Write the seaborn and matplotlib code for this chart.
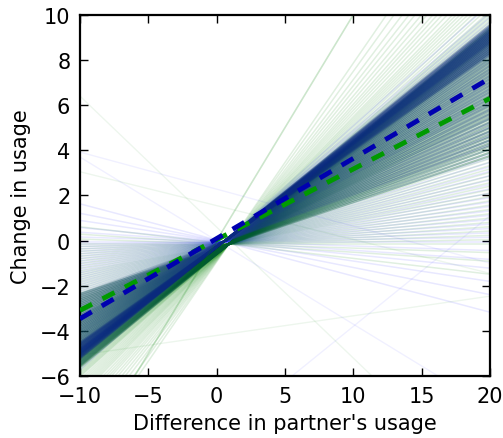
import numpy as np
import pandas as pd
import matplotlib
matplotlib.use("Agg")
import matplotlib.pyplot as plt
import seaborn as sns

# x extent of the drawn lines
x_span = [-10, 20]
# points the sampled lines of each chain fan out from
blue_pivot = (0.5, -0.05)
green_pivot = (0.9, -0.15)

# sampled regression slopes (blue chain)
blue_steep = [0.492, 0.489, 0.486, 0.483, 0.480, 0.478, 0.476, 0.474, 0.472, 0.470,
              0.468, 0.466, 0.464, 0.462, 0.460, 0.458, 0.456, 0.454, 0.452, 0.450,
              0.447, 0.444, 0.441, 0.438, 0.435, 0.432, 0.429, 0.426]
blue_mid = [0.422, 0.415, 0.408, 0.40, 0.392, 0.385, 0.377, 0.37, 0.362, 0.355,
            0.347, 0.34, 0.332, 0.325, 0.317, 0.31, 0.30, 0.29, 0.28, 0.27,
            0.26, 0.25, 0.24, 0.23, 0.22]
blue_tail = [0.21, 0.2, 0.19, 0.18, 0.17, 0.16, 0.15, 0.14, 0.13, 0.12, 0.11,
             0.10, 0.09, 0.08, 0.07, 0.06, 0.05, 0.04, 0.03, 0.02, 0.01, 0.0,
             -0.02, -0.04, -0.06, -0.09, -0.12, -0.16, 0.50, 0.51, 0.52, 0.54]

# sampled regression slopes (green chain)
green_core = [0.50, 0.496, 0.492, 0.488, 0.484, 0.48, 0.476, 0.472, 0.468, 0.464,
              0.46, 0.455, 0.45, 0.445, 0.44, 0.434, 0.428, 0.422, 0.416, 0.41,
              0.404, 0.398, 0.392, 0.386, 0.38, 0.374, 0.368, 0.362, 0.356, 0.35,
              0.344, 0.338, 0.332, 0.326, 0.32, 0.314, 0.308, 0.302, 0.296, 0.29,
              0.283, 0.276, 0.269, 0.262, 0.255, 0.248, 0.241, 0.234, 0.227, 0.22,
              0.212, 0.204]
green_tail = [0.505, 0.51, 0.515, 0.52, 0.525, 0.53, 0.535, 0.54, 0.55, 0.56,
              0.57, 0.58, 0.59, 0.6, 0.61, 0.62, 0.635, 0.65, 0.665, 0.68,
              0.70, 0.72, 0.745, 0.77, 0.8, 0.84, 0.88,
              0.198, 0.19, 0.182, 0.174, 0.166, 0.158, 0.15, 0.142, 0.134, 0.126,
              0.118, 0.11, 0.10, 0.09, 0.08, 0.07, 0.06, 0.05, 0.04, 0.03,
              0.02, 0.01, 0.0, -0.02, -0.04, -0.07]

# stray samples that do not go through the pivot: slope, intercept
green_odd_slope = [-0.58, -0.15, 0.087]
green_odd_icpt = [0.6, 1.55, -4.2]
blue_odd_slope = [-0.164, 0.49, -0.37]
blue_odd_icpt = [2.28, -8.7, 0.0]
steep_slope, steep_icpt = 1.0, 0.0

# posterior mean lines: slope, intercept
blue_mean = (0.355, 0.09)
green_mean = (0.313, 0.04)


def pivot_lines(slopes, pivot):
    px, py = pivot
    return [(s, py - s * px) for s in slopes]


def to_frame(lines):
    rows = []
    for i, (s, b) in enumerate(lines):
        for x in x_span:
            rows.append({"line": i, "x": x, "y": b + s * x})
    return pd.DataFrame(rows)


sns.set_style("white")
plt.rcParams["font.family"] = ["DejaVu Sans"]
plt.rcParams["text.color"] = "black"
plt.rcParams["axes.labelcolor"] = "black"

fig, ax = plt.subplots(figsize=(5.03, 4.39), dpi=100)
fig.subplots_adjust(left=0.159, right=0.974, bottom=0.141, top=0.964)

groups = [
    (pivot_lines(green_tail, green_pivot), "#008000", 0.12, 1.1),
    (list(zip(green_odd_slope, green_odd_icpt)), "#008000", 0.07, 1.0),
    (pivot_lines(blue_tail, blue_pivot), "#0000ff", 0.09, 1.1),
    (list(zip(blue_odd_slope, blue_odd_icpt)), "#0000ff", 0.06, 1.0),
    (pivot_lines(green_core, green_pivot), "#005a30", 0.36, 1.6),
    (pivot_lines(blue_mid, blue_pivot), "#1a3a90", 0.26, 1.5),
    (pivot_lines(blue_steep, blue_pivot), "#0a2a80", 0.32, 1.6),
    ([(steep_slope, steep_icpt)], "#008000", 0.2, 1.2),
]
for lines, col, a, lw in groups:
    sns.lineplot(data=to_frame(lines), x="x", y="y", units="line", estimator=None,
                 color=col, alpha=a, lw=lw, ax=ax, legend=False)

for (s, b), col in [(green_mean, "#009a00"), (blue_mean, "#0000b0")]:
    ax.plot(x_span, [b + s * x for x in x_span], color=col, lw=3.5,
            dashes=(2.8, 2.4), zorder=5)

ax.set_xlim(-10, 20)
ax.set_ylim(-6, 10)
ax.set_xticks([-10, -5, 0, 5, 10, 15, 20])
ax.set_yticks([-6, -4, -2, 0, 2, 4, 6, 8, 10])
ax.set_xlabel("Difference in partner's usage", fontsize=15, labelpad=5)
ax.set_ylabel("Change in usage", fontsize=15, labelpad=6)
ax.tick_params(direction="in", length=6, width=1, labelsize=15, pad=7,
               top=True, right=True, bottom=True, left=True, colors="black")
for sp in ax.spines.values():
    sp.set_linewidth(1.6)
    sp.set_color("black")

fig.savefig("out.png", dpi=100)
